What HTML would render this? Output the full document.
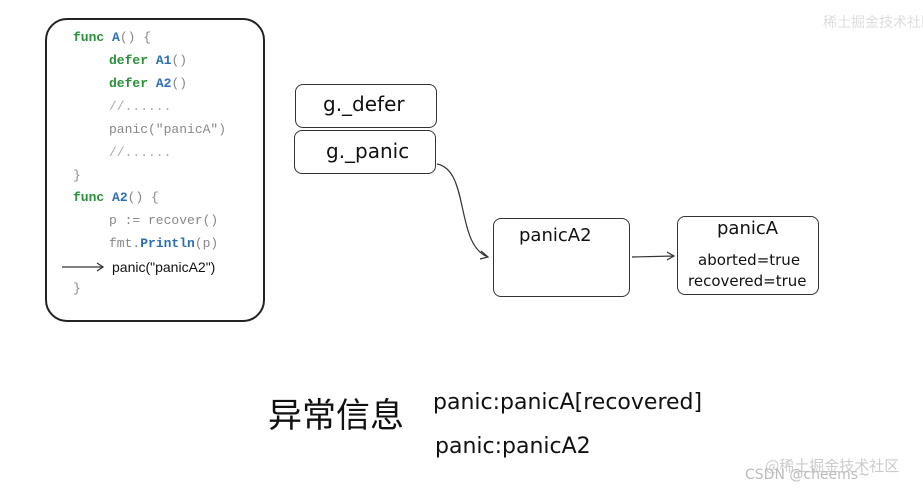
<!DOCTYPE html>
<html><head><meta charset="utf-8"><style>
body{margin:0;background:#fff;width:923px;height:491px;position:relative;overflow:hidden;font-family:"Liberation Sans",sans-serif}
.code{position:absolute;left:45px;top:18px;width:216px;height:300px;border:2px solid #222;border-radius:22px}
.ln{position:absolute;font-family:"Liberation Mono",monospace;font-size:13px;color:#888;white-space:pre}
.k{color:#2a8f3a;font-weight:bold}.f{color:#2c6fb5;font-weight:bold}
.box{position:absolute;border:1.5px solid #333;border-radius:8px;background:#fff}
.hand{position:absolute;font-family:"DejaVu Sans",sans-serif;color:#111;white-space:pre}
</style></head><body>
<div class="code"></div>
<div class="ln" style="left:73px;top:30px"><span class="k">func</span> <span class="f">A</span>() {</div>
<div class="ln" style="left:109px;top:53px"><span class="k">defer</span> <span class="f">A1</span>()</div>
<div class="ln" style="left:109px;top:76px"><span class="k">defer</span> <span class="f">A2</span>()</div>
<div class="ln" style="left:109px;top:99px;color:#aaa">//......</div>
<div class="ln" style="left:109px;top:122px">panic("panicA")</div>
<div class="ln" style="left:109px;top:145px;color:#aaa">//......</div>
<div class="ln" style="left:73px;top:168px">}</div>
<div class="ln" style="left:73px;top:190px"><span class="k">func</span> <span class="f">A2</span>() {</div>
<div class="ln" style="left:109px;top:213px">p := recover()</div>
<div class="ln" style="left:109px;top:236px">fmt.<span class="f">Println</span>(p)</div>
<div class="ln" style="left:112px;top:259px;font-family:'Liberation Sans',sans-serif;color:#111;font-size:14px">panic("panicA2")</div>
<div class="ln" style="left:73px;top:281px">}</div>
<div class="box" style="left:295px;top:84px;width:140px;height:42px"></div>
<div class="box" style="left:294px;top:130px;width:140px;height:42px"></div>
<div class="box" style="left:493px;top:218px;width:135px;height:77px"></div>
<div class="box" style="left:677px;top:216px;width:140px;height:77px"></div>
<div class="hand" style="left:323px;top:92px;font-size:20px">g._defer</div>
<div class="hand" style="left:326px;top:139px;font-size:20px">g._panic</div>
<div class="hand" style="left:519px;top:225px;font-size:18px">panicA2</div>
<div class="hand" style="left:717px;top:218px;font-size:18px">panicA</div>
<div class="hand" style="left:698px;top:251px;font-size:15px">aborted=true</div>
<div class="hand" style="left:688px;top:272px;font-size:15px">recovered=true</div>
<svg style="position:absolute;left:0;top:0" width="923" height="491">
<g fill="none" stroke="#333" stroke-width="1.2">
<path d="M62 267 L102 267 M97 263 L103 267 L97 271"/>
<path d="M437 164 C470 170 455 245 488 257 M481 251 L488 257 L480 259"/>
<path d="M632 257 L674 256 M667 252 L674 256 L667 260"/>
</g></svg>
<div class="hand" style="left:268px;top:388px;font-size:34px;font-family:'Noto Sans CJK SC',sans-serif">异常信息</div>
<div class="hand" style="left:433px;top:390px;font-size:22px">panic:panicA[recovered]</div>
<div class="hand" style="left:435px;top:434px;font-size:22px">panic:panicA2</div>
<div class="hand" style="left:765px;top:455px;font-size:15px;color:#ccc;font-family:'Noto Sans CJK SC',sans-serif">@稀土掘金技术社区</div>
<div class="hand" style="left:745px;top:467px;font-size:14px;color:#bbb">CSDN @cheems~</div>
<div class="hand" style="left:823px;top:12px;font-size:14px;color:#ddd;font-family:'Noto Sans CJK SC',sans-serif">稀土掘金技术社区</div>
</body></html>
